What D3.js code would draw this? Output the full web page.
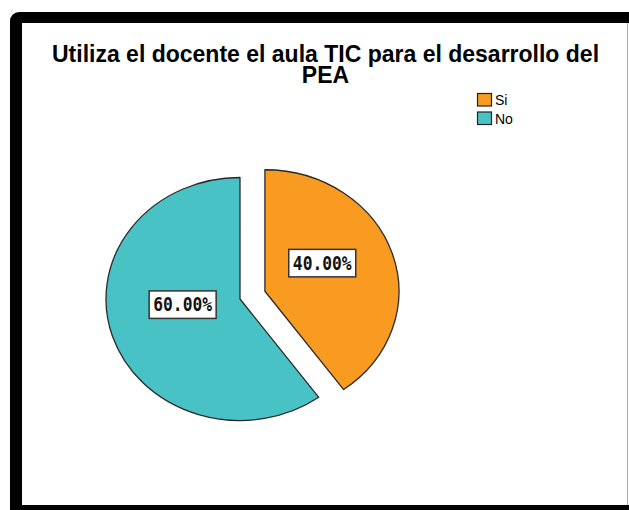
<!DOCTYPE html>
<html><head><meta charset="utf-8">
<script src="https://cdn.jsdelivr.net/npm/d3@7"></script>
<style>html,body{margin:0;padding:0;background:#fff;}svg{display:block;}</style>
</head><body>
<svg id="c" width="629" height="510"></svg>
<script>
const titleLines = ["Utiliza el docente el aula TIC para el desarrollo del", "PEA"];
const categories = ["Si", "No"];
const values = [40, 60];
const labels = ["40.00%", "60.00%"];
const colors = ["#f99b21", "#48c2c5"];
const exploded = [true, false];

const svg = d3.select("#c");
// frame
svg.append("rect").attr("x",10).attr("y",12).attr("width",640).attr("height",520).attr("rx",9).attr("fill","#000");
svg.append("rect").attr("x",22).attr("y",23).attr("width",610).attr("height",482).attr("fill","#fff");
svg.append("line").attr("x1",627.5).attr("x2",627.5).attr("y1",23).attr("y2",505).attr("stroke","#aaa").attr("stroke-width",1);

// title (one text element, two lines)
const title = svg.append("text")
  .attr("text-anchor","middle")
  .attr("font-family","'Liberation Sans', Arial, sans-serif")
  .attr("font-weight","bold").attr("font-size",23)
  .attr("fill","#000");
title.selectAll("tspan").data(titleLines).enter().append("tspan")
  .attr("x",325.5).attr("y",(d,i)=>62+i*20.5).text(d=>d);

// legend
const leg = svg.append("g").attr("transform","translate(477,93)");
const li = leg.selectAll("g").data(categories).enter().append("g")
  .attr("transform",(d,i)=>`translate(0,${i*18.5})`);
li.append("rect").attr("x",0.5).attr("y",0.5).attr("width",14).attr("height",12.5)
  .attr("fill",(d,i)=>colors[i]).attr("stroke","#222").attr("stroke-width",1.2);
li.append("text").attr("x",18).attr("y",12)
  .attr("font-family","'Liberation Sans', Arial, sans-serif").attr("font-size",14)
  .attr("fill","#000").text(d=>d);

// pie
const rY = 121.5, sx = 134/121.5;
const cx = 240, cy = 299;
const explodeDist = 25;
const pie = d3.pie().sort(null).value(d=>d)(values);
const arc = d3.arc().innerRadius(0).outerRadius(rY);
const labelArc = d3.arc().innerRadius(rY*0.45).outerRadius(rY*0.45);
const labelDy = -11;

const g = svg.append("g").attr("transform",`translate(${cx},${cy})`);
const slices = g.selectAll("g.slice").data(pie).enter().append("g").attr("class","slice")
  .attr("transform",(d,i)=>{
    if(!exploded[i]) return "";
    const m = (d.startAngle+d.endAngle)/2;
    return `translate(${Math.sin(m)*explodeDist*sx*0.95},${-Math.cos(m)*explodeDist})`;
  });
slices.append("path")
  .attr("transform",`scale(${sx},1)`)
  .attr("d",arc)
  .attr("fill",(d,i)=>colors[i])
  .attr("stroke","#2a2a2a").attr("stroke-width",1.3)
  .attr("vector-effect","non-scaling-stroke")
  .attr("stroke-linejoin","round");

const lab = slices.append("g").attr("transform",(d)=>{
  const c = labelArc.centroid(d);
  return `translate(${c[0]*sx},${c[1]+labelDy})`;
});
lab.append("rect").attr("x",-33.5).attr("y",-14).attr("width",67).attr("height",27.5)
  .attr("fill","#fff").attr("stroke","#333").attr("stroke-width",1.5);
lab.append("text").attr("text-anchor","middle")
  .attr("transform","translate(0,6.5) scale(1,1.15)")
  .attr("font-family","'DejaVu Sans Mono', monospace").attr("font-weight","bold")
  .attr("font-size",16.3).attr("fill","#111")
  .text((d,i)=>labels[i]);
</script>
</body></html>
